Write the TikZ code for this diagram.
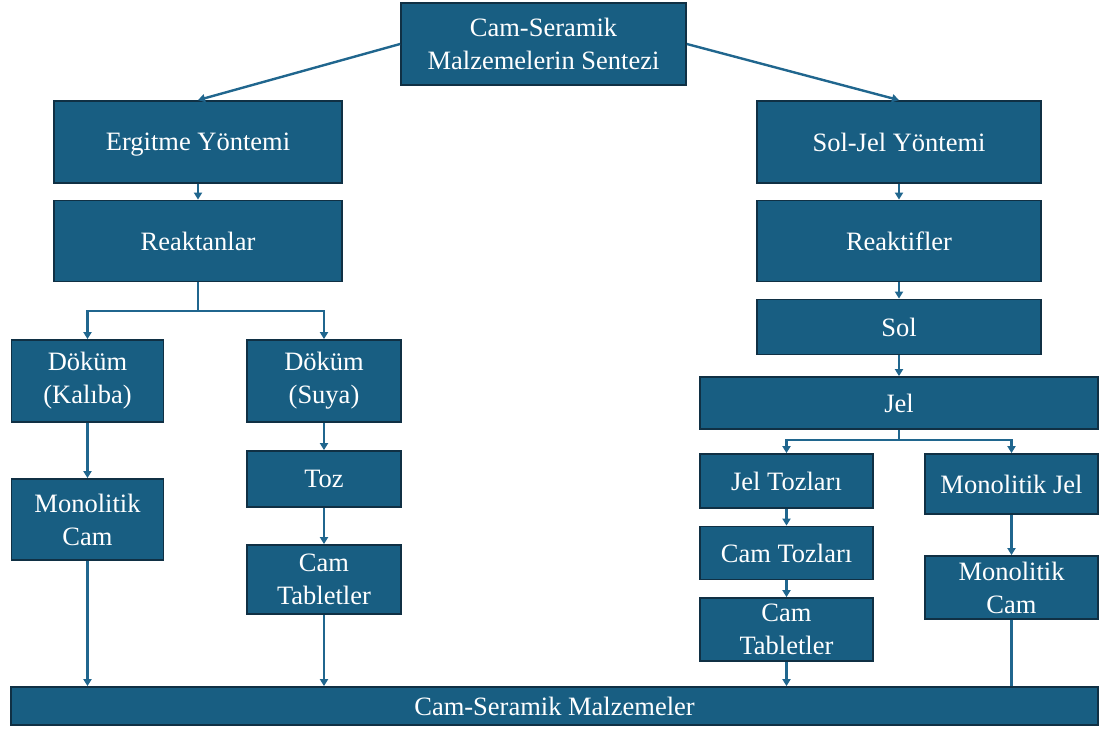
\documentclass[tikz,border=0pt]{standalone}
\usepackage{fontspec}
\setmainfont{Liberation Serif}
\usetikzlibrary{arrows.meta}
\definecolor{boxblue}{RGB}{24,94,130}
\definecolor{boxedge}{RGB}{16,48,68}
\definecolor{linkblue}{RGB}{32,102,142}
\begin{document}
\begin{tikzpicture}[x=1pt,y=-1pt,
        box/.style={draw=boxedge,line width=1.8pt,fill=boxblue,text=white,align=center,
          inner sep=2pt,font=\fontsize{26.5}{33}\selectfont},
        one/.style={text depth=0pt},
        link/.style={draw=linkblue,line width=2.4pt,-{Triangle[length=7pt,width=8pt]}},
        plain/.style={draw=linkblue,line width=2.4pt}]
        \useasboundingbox (0,0) rectangle (1101,729);
        \def\wl{288}
        \def\wr{284}
        \def\ws{173}
        \node[box,minimum width=285,minimum height=82] (synth) at (543.5,44) {Cam-Seramik\\Malzemelerin Sentezi};
        \node[box,one,minimum width=\wl,minimum height=82] (ergitme) at (198,142) {Ergitme Yöntemi};
        \node[box,one,minimum width=\wr,minimum height=82] (soljel) at (899,142) {Sol-Jel Yöntemi};
        \node[box,one,minimum width=\wl,minimum height=81] (reaktan) at (198,241) {Reaktanlar};
        \node[box,one,minimum width=\wr,minimum height=81] (reaktif) at (899,241) {Reaktifler};
        \node[box,one,minimum width=\wr,minimum height=55] (sol) at (899,327) {Sol};
        \node[box,one,minimum width=398,minimum height=52] (jel) at (899,403) {Jel};
        % ergitme side
        \node[box,minimum width=152,minimum height=82] (dokumK) at (87.5,381) {Döküm\\(Kalıba)};
        \node[box,minimum width=154,minimum height=82] (dokumS) at (324,381) {Döküm\\(Suya)};
        \node[box,minimum width=152,minimum height=81] (monocamL) at (87.5,519.5) {Monolitik\\Cam};
        \node[box,one,minimum width=154,minimum height=56] (toz) at (324,479) {Toz};
        \node[box,minimum width=154,minimum height=69] (camtabL) at (324,579.5) {Cam\\Tabletler};
        % sol-jel side
        \node[box,one,minimum width=\ws,minimum height=54] (jeltoz) at (786.5,481) {Jel Tozları};
        \node[box,one,minimum width=\ws,minimum height=60] (monojel) at (1011.5,484) {Monolitik Jel};
        \node[box,one,minimum width=\ws,minimum height=53] (camtoz) at (786.5,553) {Cam Tozları};
        \node[box,minimum width=\ws,minimum height=63] (camtabR) at (786.5,629.5) {Cam\\Tabletler};
        \node[box,minimum width=\ws,minimum height=63] (monocamR) at (1011.5,587.5) {Monolitik\\Cam};
        \node[box,one,minimum width=1087,minimum height=38] (malz) at (554.5,706) {Cam-Seramik Malzemeler};
        \coordinate (lsplit) at (198,311);
        \coordinate (rsplit) at (899,440);
        \draw[link] (synth.west) -- (ergitme.north);
        \draw[link] (synth.east) -- (soljel.north);
        \draw[link] (ergitme) -- (reaktan);
        \draw[link] (soljel) -- (reaktif);
        \draw[link] (reaktif) -- (sol);
        \draw[link] (sol) -- (jel);
        \draw[plain] (reaktan.south) -- (lsplit);
        \draw[link] (lsplit) -| (dokumK.north);
        \draw[link] (lsplit) -| (dokumS.north);
        \draw[link] (dokumK) -- (monocamL);
        \draw[link] (monocamL) -- (monocamL |- malz.north);
        \draw[link] (dokumS) -- (toz);
        \draw[link] (toz) -- (camtabL);
        \draw[link] (camtabL) -- (camtabL |- malz.north);
        \draw[plain] (jel.south) -- (rsplit);
        \draw[link] (rsplit) -| (jeltoz.north);
        \draw[link] (rsplit) -| (monojel.north);
        \draw[link] (jeltoz) -- (camtoz);
        \draw[link] (camtoz) -- (camtabR);
        \draw[link] (camtabR) -- (camtabR |- malz.north);
        \draw[link] (monojel) -- (monocamR);
        \draw[plain] (monocamR) -- (monocamR |- malz.north);
\end{tikzpicture}
\end{document}
